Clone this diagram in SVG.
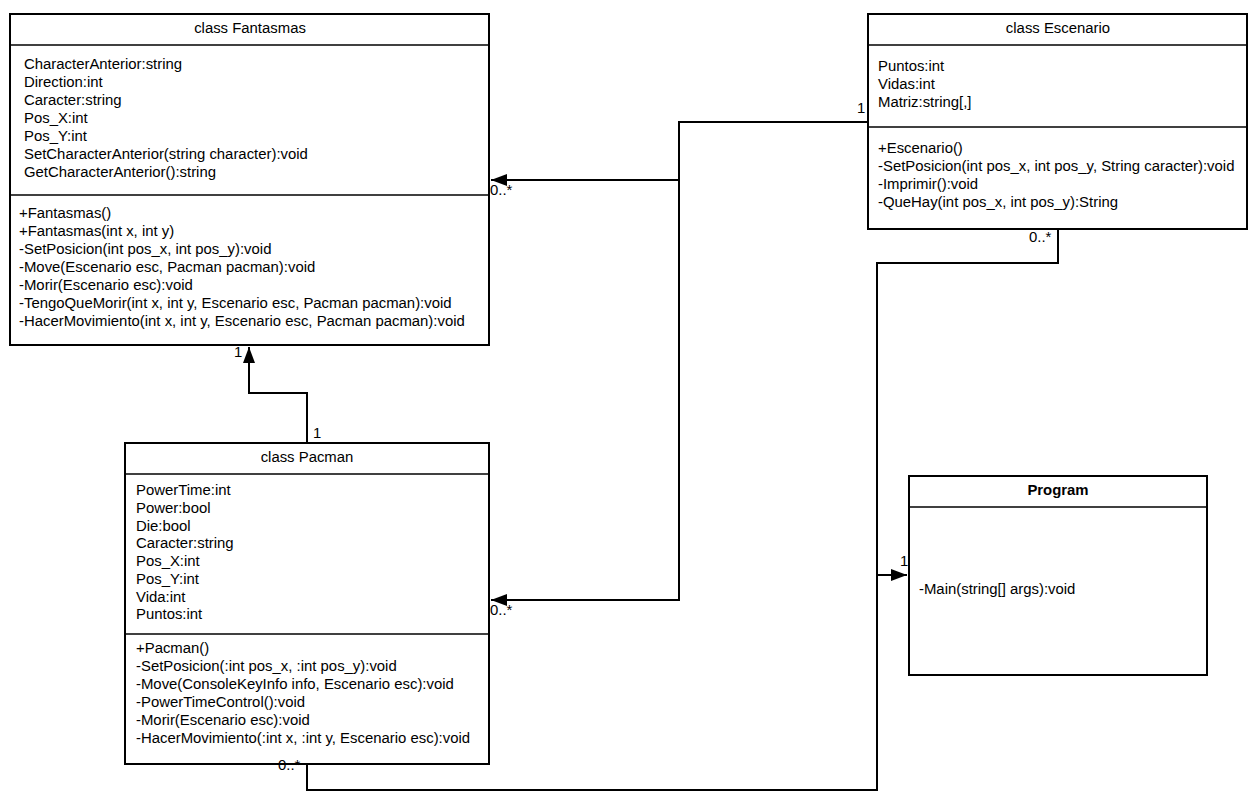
<svg xmlns="http://www.w3.org/2000/svg" width="1256" height="800" viewBox="0 0 1256 800">
<style>
.box{fill:#fff;stroke:#000;stroke-width:2}
.div{stroke:#000;stroke-width:1.5}
.t{font-family:"Liberation Sans",Arial,sans-serif;font-size:14.9px;fill:#000}
.c{text-anchor:middle}
.b{font-weight:bold}
.ln{fill:none;stroke:#000;stroke-width:2}
</style>
<defs>
<marker id="arr" viewBox="0 0 16 12" refX="16" refY="6" markerWidth="16" markerHeight="12" markerUnits="userSpaceOnUse" orient="auto">
<path d="M0,0 L16,6 L0,12 Z" fill="#000"/>
</marker>
</defs>
<rect width="1256" height="800" fill="#fff"/>
<g id="fantasmas">
<rect class="box" x="10" y="14" width="479" height="331"/>
<line class="div" x1="10" y1="45" x2="489" y2="45"/>
<line class="div" x1="10" y1="195" x2="489" y2="195"/>
<text class="t c" x="250" y="33">class Fantasmas</text>
<text class="t" x="24" y="69">CharacterAnterior:string</text>
<text class="t" x="24" y="87">Direction:int</text>
<text class="t" x="24" y="105">Caracter:string</text>
<text class="t" x="24" y="123">Pos_X:int</text>
<text class="t" x="24" y="141">Pos_Y:int</text>
<text class="t" x="24" y="159">SetCharacterAnterior(string character):void</text>
<text class="t" x="24" y="177">GetCharacterAnterior():string</text>
<text class="t" x="19" y="218">+Fantasmas()</text>
<text class="t" x="19" y="236">+Fantasmas(int x, int y)</text>
<text class="t" x="19" y="254">-SetPosicion(int pos_x, int pos_y):void</text>
<text class="t" x="19" y="272">-Move(Escenario esc, Pacman pacman):void</text>
<text class="t" x="19" y="290">-Morir(Escenario esc):void</text>
<text class="t" x="19" y="308">-TengoQueMorir(int x, int y, Escenario esc, Pacman pacman):void</text>
<text class="t" x="19" y="326">-HacerMovimiento(int x, int y, Escenario esc, Pacman pacman):void</text>
</g>
<g id="escenario">
<rect class="box" x="868" y="14" width="379" height="215"/>
<line class="div" x1="868" y1="45" x2="1247" y2="45"/>
<line class="div" x1="868" y1="127" x2="1247" y2="127"/>
<text class="t c" x="1058" y="33">class Escenario</text>
<text class="t" x="878" y="71">Puntos:int</text>
<text class="t" x="878" y="89">Vidas:int</text>
<text class="t" x="878" y="107">Matriz:string[,]</text>
<text class="t" x="878" y="153">+Escenario()</text>
<text class="t" x="878" y="171">-SetPosicion(int pos_x, int pos_y, String caracter):void</text>
<text class="t" x="878" y="189">-Imprimir():void</text>
<text class="t" x="878" y="207">-QueHay(int pos_x, int pos_y):String</text>
</g>
<g id="pacman">
<rect class="box" x="125" y="443" width="364" height="321"/>
<line class="div" x1="125" y1="474" x2="489" y2="474"/>
<line class="div" x1="125" y1="634" x2="489" y2="634"/>
<text class="t c" x="307" y="462">class Pacman</text>
<text class="t" x="136" y="495">PowerTime:int</text>
<text class="t" x="136" y="513">Power:bool</text>
<text class="t" x="136" y="531">Die:bool</text>
<text class="t" x="136" y="548">Caracter:string</text>
<text class="t" x="136" y="566">Pos_X:int</text>
<text class="t" x="136" y="584">Pos_Y:int</text>
<text class="t" x="136" y="602">Vida:int</text>
<text class="t" x="136" y="619">Puntos:int</text>
<text class="t" x="136" y="653">+Pacman()</text>
<text class="t" x="136" y="671">-SetPosicion(:int pos_x, :int pos_y):void</text>
<text class="t" x="136" y="689">-Move(ConsoleKeyInfo info, Escenario esc):void</text>
<text class="t" x="136" y="707">-PowerTimeControl():void</text>
<text class="t" x="136" y="725">-Morir(Escenario esc):void</text>
<text class="t" x="136" y="743">-HacerMovimiento(:int x, :int y, Escenario esc):void</text>
</g>
<g id="program">
<rect class="box" x="909" y="476" width="298" height="199"/>
<line class="div" x1="909" y1="507" x2="1207" y2="507"/>
<text class="t c b" x="1058" y="495">Program</text>
<text class="t" x="919" y="594">-Main(string[] args):void</text>
</g>
<g id="connectors">
<polyline class="ln" points="868,122 679,122 679,180 491,180" marker-end="url(#arr)"/>
<polyline class="ln" points="679,180 679,600 491,600" marker-end="url(#arr)"/>
<polyline class="ln" points="307,443 307,393 249,393 249,347" marker-end="url(#arr)"/>
<polyline class="ln" points="1058,229 1058,263 877,263 877,575 907,575" marker-end="url(#arr)"/>
<polyline class="ln" points="307,764 307,790 877,790 877,575"/>
<text class="t" x="857" y="113">1</text>
<text class="t" x="490" y="195">0..*</text>
<text class="t" x="490" y="615">0..*</text>
<text class="t" x="234" y="357">1</text>
<text class="t" x="313" y="438">1</text>
<text class="t" x="1029" y="242">0..*</text>
<text class="t" x="900" y="566">1</text>
<text class="t" x="278" y="770">0..*</text>
</g>
</svg>
